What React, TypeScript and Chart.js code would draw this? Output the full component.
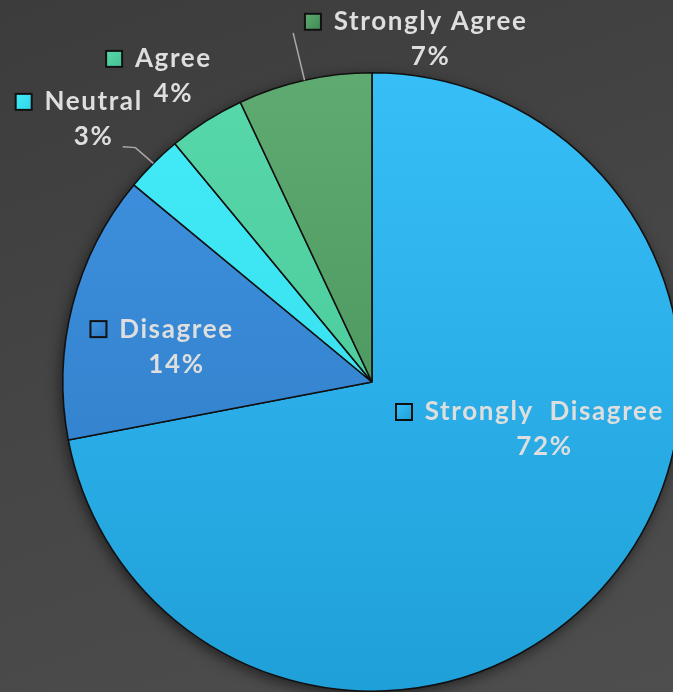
import React, { useEffect, useRef } from "react";
import { Chart, registerables } from "chart.js";

Chart.register(...registerables);

const categories = ["Strongly  Disagree", "Disagree", "Neutral", "Agree", "Strongly Agree"];
const values = [72, 14, 3, 4, 7];
const percentLabels = ["72%", "14%", "3%", "4%", "7%"];
const topColors = ["#38bff8", "#4094e2", "#44ecf8", "#58d9ab", "#5fab72"];
const bottomColors = ["#1f9fd8", "#2c78c2", "#30d6e8", "#44c091", "#3f8a52"];

// label anchors, in units of the pie radius relative to its centre
const labelAnchors: [number, number][] = [
  [0.555, 0.097],
  [-0.635, -0.171],
  [-0.903, -0.906],
  [-0.645, -1.045],
  [0.187, -1.165],
];
// leader line start points (radius units), null = no leader
const leaders: ([number, number][] | null)[] = [
  null,
  null,
  [[-0.806, -0.761], [-0.765, -0.758]],
  null,
  [[-0.255, -1.129]],
];

const W = 673;
const H = 692;
const CW = 744;
const CH = 764;

export default function App() {
  const ref = useRef<HTMLCanvasElement | null>(null);

  useEffect(() => {
    const canvas = ref.current;
    if (!canvas) return;

    const shadowPlugin = {
      id: "pieShadow",
      beforeDatasetsDraw(chart: any) {
        const meta = chart.getDatasetMeta(0);
        const a = meta.data[0];
        if (!a) return;
        const { x, y, outerRadius } = a.getProps(["x", "y", "outerRadius"], true);
        const ctx = chart.ctx;
        ctx.save();
        ctx.shadowColor = "rgba(0,0,0,0.55)";
        ctx.shadowBlur = 14;
        ctx.shadowOffsetX = -2;
        ctx.shadowOffsetY = 4;
        ctx.beginPath();
        ctx.arc(x, y, outerRadius, 0, Math.PI * 2);
        ctx.fillStyle = "#222";
        ctx.fill();
        ctx.restore();
      },
    };

    const labelPlugin = {
      id: "sliceLabels",
      afterDatasetsDraw(chart: any) {
        const meta = chart.getDatasetMeta(0);
        const a0 = meta.data[0];
        if (!a0) return;
        const { x: cx, y: cy, outerRadius: r } = a0.getProps(["x", "y", "outerRadius"], true);
        const ctx = chart.ctx;
        ctx.save();
        // leader lines
        ctx.strokeStyle = "#a9a9a9";
        ctx.lineWidth = 1.5;
        meta.data.forEach((arc: any, i: number) => {
          const pts = leaders[i];
          if (!pts) return;
          const p = arc.getProps(["startAngle", "endAngle"], true);
          const mid = (p.startAngle + p.endAngle) / 2;
          ctx.beginPath();
          pts.forEach((pt, k) => {
            const px = cx + pt[0] * r;
            const py = cy + pt[1] * r;
            if (k === 0) ctx.moveTo(px, py);
            else ctx.lineTo(px, py);
          });
          ctx.lineTo(cx + Math.cos(mid) * r, cy + Math.sin(mid) * r);
          ctx.stroke();
        });
        // labels
        ctx.font = "bold 26px Lato";
        (ctx as any).letterSpacing = "1.6px";
        ctx.textAlign = "center";
        ctx.textBaseline = "middle";
        categories.forEach((name, i) => {
          const ax = cx + labelAnchors[i][0] * r;
          const ay = cy + labelAnchors[i][1] * r;
          const w = ctx.measureText(name).width;
          ctx.fillStyle = "#dedede";
          ctx.fillText(name, ax + 0.8, ay);
          ctx.fillText(percentLabels[i], ax + 0.8, ay + 35);
          const s = 16;
          const sx = ax - w / 2 - 12 - s;
          const sy = ay - s / 2;
          const g = ctx.createLinearGradient(sx, sy, sx + s, sy + s);
          g.addColorStop(0, topColors[i]);
          g.addColorStop(1, bottomColors[i]);
          ctx.fillStyle = g;
          ctx.fillRect(sx, sy, s, s);
          ctx.strokeStyle = "#111";
          ctx.lineWidth = 2;
          ctx.strokeRect(sx, sy, s, s);
        });
        ctx.restore();
      },
    };

    const chart = new Chart(canvas, {
      type: "pie",
      data: {
        labels: categories,
        datasets: [
          {
            data: values,
            backgroundColor: (c: any) => {
              const i = c.dataIndex;
              const area = c.chart.chartArea;
              if (!area) return topColors[i];
              const g = c.chart.ctx.createLinearGradient(0, area.top, 0, area.bottom);
              g.addColorStop(0, topColors[i]);
              g.addColorStop(1, bottomColors[i]);
              return g;
            },
            borderColor: "#111111",
            borderWidth: 1.6,
            borderAlign: "center",
          } as any,
        ],
      },
      options: {
        responsive: false,
        animation: false,
        layout: { padding: 62 },
        plugins: {
          legend: { display: false },
          tooltip: { enabled: false },
        },
      },
      plugins: [shadowPlugin, labelPlugin],
    });

    return () => chart.destroy();
  }, []);

  return (
    <div
      style={{
        position: "fixed",
        left: 0,
        top: 0,
        width: W,
        height: H,
        overflow: "hidden",
        background: "linear-gradient(160deg, #3c3c3c 0%, #454545 45%, #4e4e4e 100%)",
      }}
    >
      <canvas
        ref={ref}
        width={CW}
        height={CH}
        style={{ position: "absolute", left: 0, top: 0, width: CW, height: CH }}
      />
    </div>
  );
}
